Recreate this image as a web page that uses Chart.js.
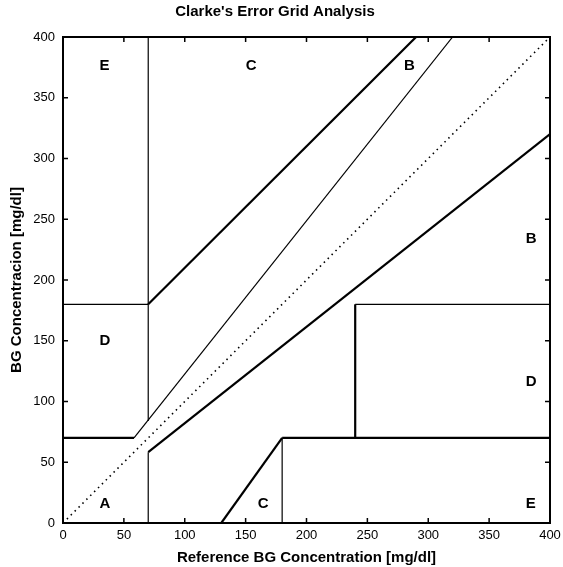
<!DOCTYPE html>
<html>
<head>
<meta charset="utf-8">
<script src="https://cdn.jsdelivr.net/npm/chart.js@4.4.1/dist/chart.umd.min.js"></script>
<style>
  html, body { margin: 0; padding: 0; background: #fff; }
  #box { width: 563px; height: 567px; }
</style>
</head>
<body>
<div id="box"><canvas id="grid"></canvas></div>
<script>
// ---- data ----
const axisTicks = [0, 50, 100, 150, 200, 250, 300, 350, 400];

// zone boundaries, one segment per entry: [x0, x1] / [y0, y1]
const diagonalX = [0, 400];
const diagonalY = [0, 400];
const zoneLineX = [
  [0, 175 / 3], [175 / 3, 320], [70, 70], [0, 70], [70, 290],
  [70, 70], [70, 400], [180, 180], [180, 400], [240, 240], [240, 400], [130, 180]
];
const zoneLineY = [
  [70, 70], [70, 400], [84, 400], [180, 180], [180, 400],
  [0, 175 / 3], [175 / 3, 320], [0, 70], [70, 70], [70, 180], [180, 180], [0, 70]
];

// zone letters
const zoneLetters = ['A', 'B', 'B', 'C', 'C', 'D', 'D', 'E', 'E'];
const zoneLabelX  = [30, 380, 280, 150, 160, 30, 380, 30, 380];
const zoneLabelY  = [16, 234, 376, 376, 16, 150, 116, 376, 16];

// ---- styles ----
const thickLine = [2.2, 1.2, 1.2, 1.2, 2.2, 1.2, 2.2, 1.2, 2.2, 2.2, 1.2, 2.2];
const FONT = '"Liberation Sans", Arial, sans-serif';

// build datasets
let datasets = [];
datasets.push({
  data: diagonalX.map((x, i) => ({ x: x, y: diagonalY[i] })),
  showLine: true, pointRadius: 0, borderColor: '#000', borderWidth: 1.6,
  borderDash: [1.5, 4]
});
zoneLineX.forEach((xs, k) => {
  datasets.push({
    data: xs.map((x, i) => ({ x: x, y: zoneLineY[k][i] })),
    showLine: true, pointRadius: 0, borderColor: '#000',
    borderWidth: thickLine[k]
  });
});

// 영역 문자, 박스, 안쪽 눈금 그리기
const gridDecor = {
  id: 'gridDecor',
  afterDatasetsDraw(chart) {
    const c = chart.ctx, a = chart.chartArea;
    const xs = chart.scales.x, ys = chart.scales.y;
    c.save();
    c.fillStyle = '#000';
    c.font = 'bold 15px ' + FONT;
    c.textAlign = 'left';
    c.textBaseline = 'middle';
    zoneLetters.forEach((t, i) => {
      c.fillText(t, xs.getPixelForValue(zoneLabelX[i]), ys.getPixelForValue(zoneLabelY[i]));
    });
    // 눈금 (안쪽으로)
    c.strokeStyle = '#000';
    c.lineWidth = 1.5;
    c.beginPath();
    axisTicks.forEach(v => {
      const px = xs.getPixelForValue(v), py = ys.getPixelForValue(v);
      c.moveTo(px, a.bottom); c.lineTo(px, a.bottom - 5);
      c.moveTo(px, a.top);    c.lineTo(px, a.top + 5);
      c.moveTo(a.left, py);   c.lineTo(a.left + 5, py);
      c.moveTo(a.right, py);  c.lineTo(a.right - 5, py);
    });
    c.stroke();
    c.lineWidth = 2;
    c.strokeRect(a.left, a.top, a.right - a.left, a.bottom - a.top);
    c.restore();
  }
};

new Chart(document.getElementById('grid'), {
  type: 'scatter',
  data: { datasets: datasets },
  options: {
    responsive: true,
    maintainAspectRatio: false,
    animation: false,
    layout: { padding: { left: 0, right: 13, top: 0, bottom: 0 } },
    plugins: {
      legend: { display: false },
      tooltip: { enabled: false },
      title: {
        display: true,
        text: "Clarke's Error Grid Analysis",
        color: '#000',
        font: { family: FONT, size: 15, weight: 'bold' },
        padding: { top: 3, bottom: 16 }
      }
    },
    scales: {
      x: {
        type: 'linear', min: 0, max: 400,
        afterBuildTicks: s => { s.ticks = axisTicks.map(v => ({ value: v })); },
        afterFit: s => { s.height = 44; s.paddingLeft = 0; s.paddingRight = 0; },
        grid: { display: false, drawTicks: false },
        border: { display: false },
        ticks: { color: '#000', padding: 5, maxRotation: 0, font: { family: FONT, size: 13 } },
        title: {
          display: true, text: 'Reference BG Concentration [mg/dl]', color: '#000',
          padding: { top: 0, bottom: 0 },
          font: { family: FONT, size: 15, weight: 'bold' }
        }
      },
      y: {
        type: 'linear', min: 0, max: 400,
        afterBuildTicks: s => { s.ticks = axisTicks.map(v => ({ value: v })); },
        afterFit: s => { s.width = 63; s.paddingTop = 0; s.paddingBottom = 0; },
        grid: { display: false, drawTicks: false },
        border: { display: false },
        ticks: { color: '#000', padding: 8, font: { family: FONT, size: 13 } },
        title: {
          display: true, text: 'BG Concentracion [mg/dl]', color: '#000',
          padding: { top: 8, bottom: 0 },
          font: { family: FONT, size: 15, weight: 'bold' }
        }
      }
    }
  },
  plugins: [gridDecor]
});
</script>
</body>
</html>
